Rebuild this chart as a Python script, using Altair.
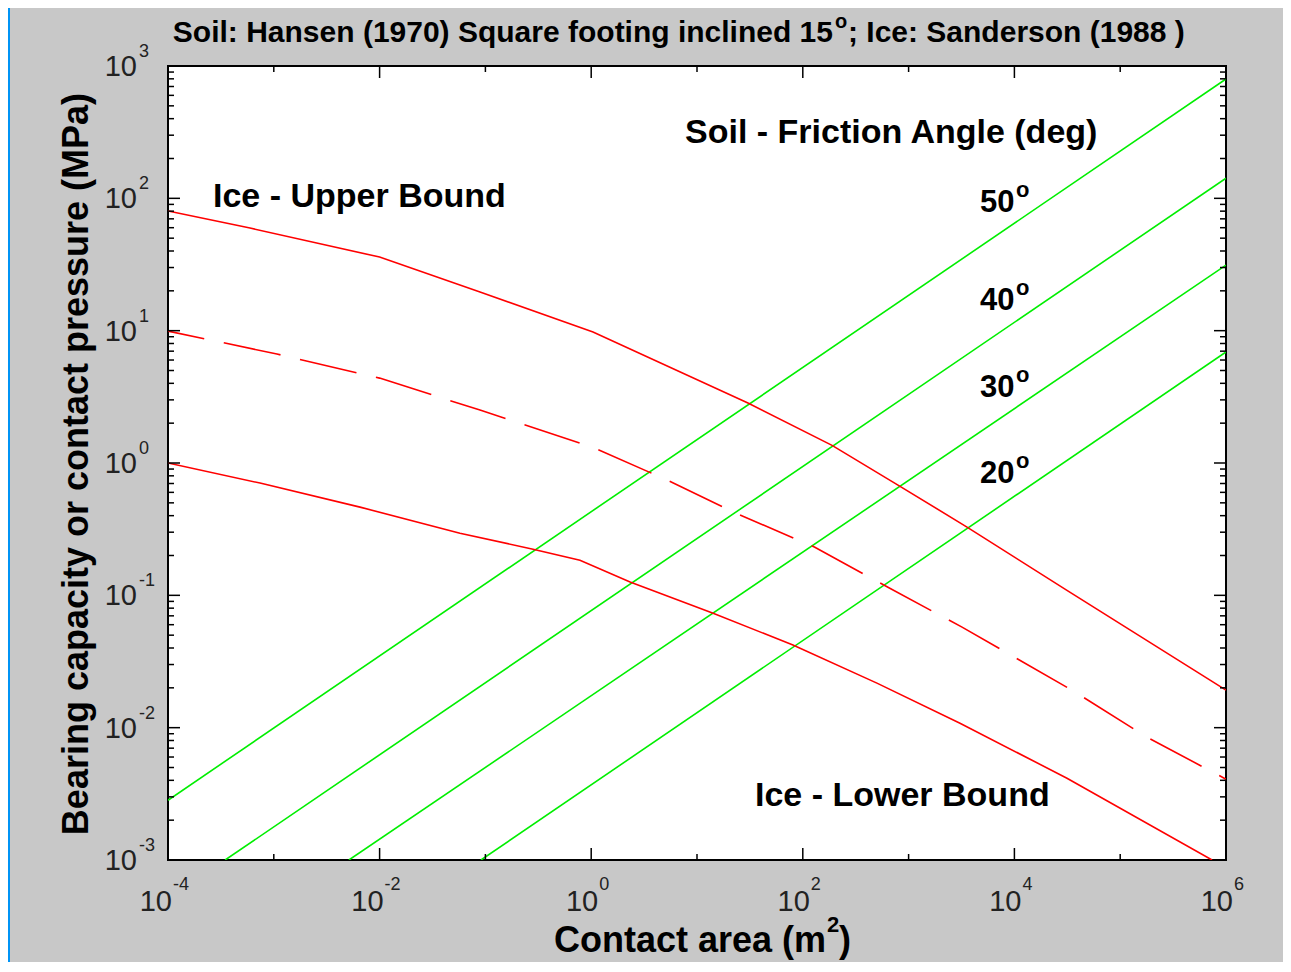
import altair as alt
import pandas as pd

# ---------------- data ----------------
# Ice curves (Sanderson 1988): contact area (m^2) vs pressure (MPa)
upper_x = [1e-4, 5.96e-4, 1e-2, 0.0889, 1.04, 30.3, 189, 794, 3565, 31400, 1e6]
upper_y = [80.2, 59.6, 36.0, 19.6, 9.76, 2.84, 1.36, 0.681, 0.328, 0.109, 0.0192]

mid_x = [1e-4, 1.07e-3, 1e-2, 0.0889, 1.02, 4.98, 24.4, 130, 638, 3200, 35000, 179000, 1e6]
mid_y = [9.93, 6.66, 4.38, 2.51, 1.32, 0.756, 0.411, 0.231, 0.115, 0.0575, 0.0192, 0.00848, 0.00408]

lower_x = [1e-4, 7.41e-4, 6.53e-3, 0.0575, 0.282, 0.783, 2.33, 14.2, 80.7, 502, 3060, 31400, 738000]
lower_y = [1.0, 0.705, 0.464, 0.295, 0.223, 0.184, 0.126, 0.0733, 0.0421, 0.0217, 0.0108, 0.00415, 0.001]

# Soil bearing capacity lines (Hansen 1970), one per friction angle
soil_angles = ["50", "40", "30", "20"]
soil_x_start = [1e-4, 3.47e-4, 5.13e-3, 0.0908]
soil_y_start = [2.83e-3, 1e-3, 1e-3, 1e-3]
soil_x_end = [1e6, 1e6, 1e6, 1e6]
soil_y_end = [798, 142, 31.3, 6.9]

# axis ticks
x_exponents = [-4, -3, -2, -1, 0, 1, 2, 3, 4, 5, 6]
x_label_exponents = [-4, -2, 0, 2, 4, 6]
y_exponents = [-3, -2, -1, 0, 1, 2, 3]
y_minor_mult = [2, 3, 4, 5, 6, 7, 8, 9]

# ---------------- build tables ----------------
rows = []
for name, xs, ys in [("upper", upper_x, upper_y), ("mid", mid_x, mid_y), ("lower", lower_x, lower_y)]:
    for i, (a, b) in enumerate(zip(xs, ys)):
        rows.append({"series": name, "x": a, "y": b, "order": i})
ice = pd.DataFrame(rows)

srows = []
for ang, x0, y0, x1, y1 in zip(soil_angles, soil_x_start, soil_y_start, soil_x_end, soil_y_end):
    srows.append({"angle": ang, "x": x0, "y": y0, "order": 0})
    srows.append({"angle": ang, "x": x1, "y": y1, "order": 1})
soil = pd.DataFrame(srows)

W, H = 1058, 794
FONT = "Liberation Sans"
xscale = alt.Scale(type="log", domain=[1e-4, 1e6], nice=False)
yscale = alt.Scale(type="log", domain=[1e-3, 1e3], nice=False)
X = lambda f: alt.X(f, type="quantitative", scale=xscale, axis=None)
Y = lambda f: alt.Y(f, type="quantitative", scale=yscale, axis=None)

one = pd.DataFrame({"k": [0]})

layers = []

# blue left border strip
layers.append(alt.Chart(one).mark_rect(color="#0094f5").encode(
    x=alt.value(-160), x2=alt.value(-158), y=alt.value(-58), y2=alt.value(H + 102)))

# soil lines (green)
layers.append(alt.Chart(soil).mark_line(color="#00ee00", strokeWidth=1.6, clip=True).encode(
    x=X("x"), y=Y("y"), detail="angle:N", order="order:Q"))

# ice lines (red)
solid = ice[ice.series != "mid"]
dashed = ice[ice.series == "mid"]
layers.append(alt.Chart(solid).mark_line(color="#ff0000", strokeWidth=1.6, clip=True).encode(
    x=X("x"), y=Y("y"), detail="series:N", order="order:Q"))
layers.append(alt.Chart(dashed).mark_line(color="#ff0000", strokeWidth=1.6, clip=True,
                                          strokeDash=[58, 20], strokeDashOffset=21).encode(
    x=X("x"), y=Y("y"), order="order:Q"))

# ---------------- ticks ----------------
x_long = pd.DataFrame({"v": [10.0 ** e for e in x_exponents if e in x_label_exponents]})
x_short = pd.DataFrame({"v": [10.0 ** e for e in x_exponents if e not in x_label_exponents]})
y_major = pd.DataFrame({"v": [10.0 ** e for e in y_exponents]})
y_minor = pd.DataFrame({"v": [m * 10.0 ** e for e in y_exponents[:-1] for m in y_minor_mult]})

def xticks(df, length):
    bot = alt.Chart(df).mark_rule(color="black", strokeWidth=1.5).encode(
        x=X("v"), y=alt.value(H), y2=alt.value(H - length))
    top = alt.Chart(df).mark_rule(color="black", strokeWidth=1.5).encode(
        x=X("v"), y=alt.value(0), y2=alt.value(length))
    return [bot, top]

def yticks(df, length):
    left = alt.Chart(df).mark_rule(color="black", strokeWidth=1.5).encode(
        y=Y("v"), x=alt.value(0), x2=alt.value(length))
    right = alt.Chart(df).mark_rule(color="black", strokeWidth=1.5).encode(
        y=Y("v"), x=alt.value(W), x2=alt.value(W - length))
    return [left, right]

layers += xticks(x_long, 12) + xticks(x_short, 6) + yticks(y_major, 12) + yticks(y_minor, 6)

# ---------------- tick labels (10 with superscript exponent) ----------------
TICK_COLOR = "#222222"
xl = pd.DataFrame({"v": [10.0 ** e for e in x_label_exponents], "e": [str(e) for e in x_label_exponents]})
xl_neg = xl[xl.e.str.startswith("-")]
xl_pos = xl[~xl.e.str.startswith("-")]
for df, off in [(xl_neg, 4), (xl_pos, 7)]:
    layers.append(alt.Chart(df).mark_text(text="10", align="right", baseline="alphabetic",
                                          fontSize=29, font=FONT, color=TICK_COLOR, dx=off).encode(
        x=X("v"), y=alt.value(H + 51)))
    layers.append(alt.Chart(df).mark_text(align="left", baseline="alphabetic",
                                          fontSize=18, font=FONT, color=TICK_COLOR, dx=off + 1).encode(
        x=X("v"), y=alt.value(H + 30), text="e:N"))

yl = pd.DataFrame({"v": [10.0 ** e for e in y_exponents], "e": [str(e) for e in y_exponents]})
layers.append(alt.Chart(yl).mark_text(text="10", align="right", baseline="alphabetic",
                                      fontSize=29, font=FONT, color=TICK_COLOR, dy=10).encode(
    y=Y("v"), x=alt.value(-31)))
layers.append(alt.Chart(yl).mark_text(align="left", baseline="alphabetic",
                                      fontSize=18, font=FONT, color=TICK_COLOR, dy=-9).encode(
    y=Y("v"), x=alt.value(-29), text="e:N"))

# ---------------- texts ----------------
def label(text, x, y, size, align="left", angle=0, weight="bold"):
    return alt.Chart(one).mark_text(text=text, align=align, baseline="alphabetic", fontSize=size,
                                    fontWeight=weight, font=FONT, angle=angle, color="black").encode(
        x=alt.value(x), y=alt.value(y))

# title with superscript degree
layers.append(label("Soil: Hansen (1970) Square footing inclined 15", 665, -24, 30, align="right"))
layers.append(label("o", 667, -38, 20))
layers.append(label("; Ice: Sanderson (1988 )", 680, -24, 30))

# axis titles
layers.append(label("Contact area (m", 658, 886, 36, align="right"))
layers.append(label("2", 659, 866, 22))
layers.append(label(")", 671, 886, 36))
layers.append(label("Bearing capacity or contact pressure (MPa)", -80, 398, 36, align="center", angle=270))

# annotations
layers.append(label("Soil - Friction Angle (deg)", 517, 77, 34))
layers.append(label("Ice - Upper Bound", 45, 141, 34))
layers.append(label("Ice - Lower Bound", 587, 740, 34))
deg_baselines = [146, 244, 331, 417]
for ang, b in zip(soil_angles, deg_baselines):
    layers.append(label(ang, 812, b, 31))
    layers.append(label("o", 848, b - 15, 22))

chart = alt.layer(*layers).properties(
    width=W, height=H,
    autosize=alt.AutoSizeParams(type="none"),
    padding={"left": 160, "top": 58, "right": 57, "bottom": 102},
    background="#c8c8c8",
).configure_view(fill="white", stroke="black", strokeWidth=2)

chart.save("out.html", embed_options={"renderer": "svg", "actions": False})
